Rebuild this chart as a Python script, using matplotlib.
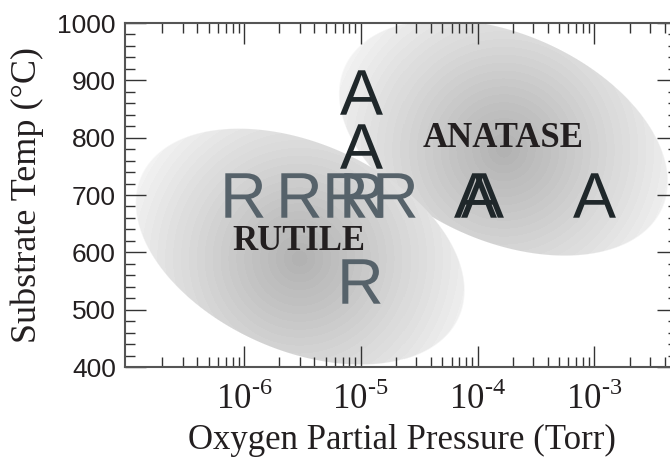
import numpy as np
import matplotlib
matplotlib.use('Agg')
import matplotlib.pyplot as plt
from matplotlib.ticker import (FixedLocator, FixedFormatter, LogLocator,
                               MultipleLocator, NullFormatter)

plt.rcParams['mathtext.fontset'] = 'custom'
plt.rcParams['mathtext.rm'] = 'Liberation Serif'
plt.rcParams['mathtext.sf'] = 'Liberation Sans'

# rutile (R) and anatase (A) growth runs: O2 pressure (Torr), substrate temp (C)
rutile_p = [1e-6, 3e-6, 7.5e-6, 1.05e-5, 2e-5, 1e-5]
rutile_t = [700, 700, 700, 700, 700, 550]
anatase_p = [1e-5, 1e-5, 9.5e-5, 1.1e-4, 1e-3]
anatase_t = [880, 785, 700, 700, 700]

# phase regions (drawn in this order) and their labels
region_names = ['ANATASE', 'RUTILE']
region_p = [1.65e-4, 3e-6]
region_t = [800, 610]
label_p = [1.67e-4, 2.95e-6]
label_t = [784, 604]

xticks = [1e-6, 1e-5, 1e-4, 1e-3]
xticklabels = ['$10^{\u2010' + e + '}$' for e in ['6', '5', '4', '3']]

R_COLOR = '#56626a'
A_COLOR = '#1f272a'
TEXT = '#231f20'

fig = plt.figure(figsize=(6.7, 4.65), dpi=100)
ax = fig.add_axes([125 / 670, 1 - 367 / 465, 553 / 670, 344 / 465])
ax.set_xscale('log')
ax.set_xlim(9.6e-8, 5.2e-3)
ax.set_ylim(400, 1000)

# shaded ellipses, built in pixel space so they keep their shape on the log axis
W, H = 553, 344
lx0, lx1 = np.log10(ax.get_xlim())
y0, y1 = ax.get_ylim()
yy, xx = np.mgrid[0:H, 0:W] + 0.5
img = np.zeros((H, W, 4))
a, b = 174.0, 104.0
ang = np.deg2rad(-24)
for p, t in zip(region_p, region_t):
    cx = (np.log10(p) - lx0) / (lx1 - lx0) * W
    cy = (t - y0) / (y1 - y0) * H
    dx, dy = xx - cx, yy - cy
    u = dx * np.cos(ang) + dy * np.sin(ang)
    v = -dx * np.sin(ang) + dy * np.cos(ang)
    e = np.sqrt((u / a) ** 2 + (v / b) ** 2)
    alpha = np.clip((1 - e) * b, 0, 1)
    r = np.hypot(dx, dy + 12)
    s = np.clip(r / a, 0, 1)
    s = np.floor(s * 22) / 22
    g = 0.70 + 0.25 * s
    for k in range(3):
        img[..., k] = g * alpha + img[..., k] * (1 - alpha)
    img[..., 3] = alpha + img[..., 3] * (1 - alpha)
rgb = img[..., :3] / np.maximum(img[..., 3:], 1e-6)
img = np.dstack([np.clip(rgb, 0, 1), img[..., 3]])
ax.imshow(img, extent=(0, 1, 0, 1), transform=ax.transAxes, origin='lower',
          aspect='auto', interpolation='nearest', zorder=0)
ax.set_xlim(9.6e-8, 5.2e-3)
ax.set_ylim(400, 1000)

ax.plot(rutile_p, rutile_t, ls='none', marker=r'$\mathsf{R}$', ms=32,
        color=R_COLOR, mew=0, zorder=3)
ax.plot(anatase_p, anatase_t, ls='none', marker=r'$\mathsf{A}$', ms=32,
        color=A_COLOR, mew=0, zorder=3)

for name, p, t in zip(region_names, label_p, label_t):
    ax.text(p, t, name, ha='center', va='baseline', family='Liberation Serif',
            weight='bold', size=25, color=TEXT, zorder=4)

ax.xaxis.set_major_locator(FixedLocator(xticks))
ax.xaxis.set_major_formatter(FixedFormatter(xticklabels))
ax.xaxis.set_minor_locator(LogLocator(base=10, subs=np.arange(2, 10), numticks=20))
ax.xaxis.set_minor_formatter(NullFormatter())
ax.yaxis.set_major_locator(MultipleLocator(100))
ax.yaxis.set_minor_locator(MultipleLocator(20))

ax.tick_params(which='both', direction='in', top=True, right=True,
               color='#333333', width=1.0)
ax.tick_params(which='major', length=15)
ax.tick_params(which='minor', length=7.5)
ax.tick_params(axis='x', labelsize=25, pad=10, labelcolor=TEXT)
ax.tick_params(axis='y', labelsize=19, pad=6.5, labelcolor=TEXT,
               labelfontfamily='Liberation Sans')
for sp in ax.spines.values():
    sp.set_color('#555555')
    sp.set_linewidth(1.5)

ax.set_xlabel('Oxygen Partial Pressure (Torr)', family='Liberation Serif',
              size=25, color=TEXT)
ax.set_ylabel('Substrate Temp (\u00b0C)', family='Liberation Serif',
              size=26, color=TEXT)
ax.xaxis.set_label_coords(0.5, -0.165)
ax.yaxis.set_label_coords(-0.147, 0.5)

fig.savefig('out.png', dpi=100)
